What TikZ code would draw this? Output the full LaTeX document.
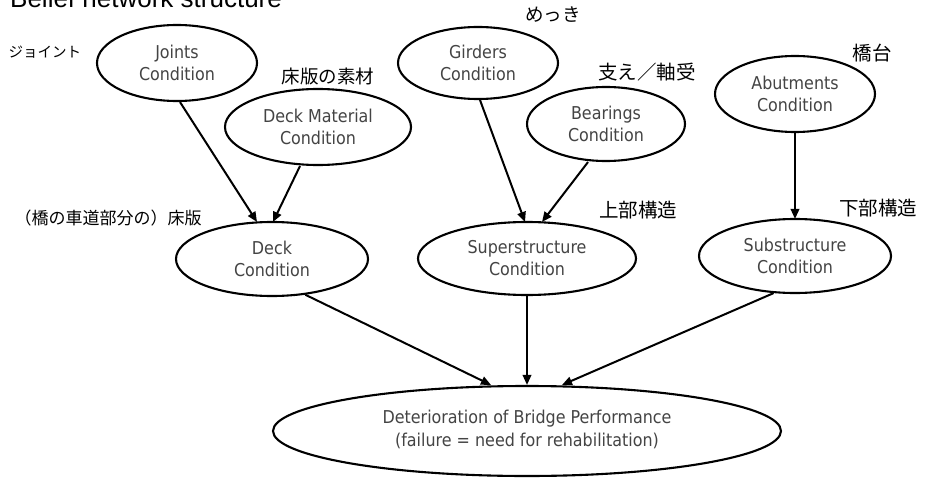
\documentclass[tikz,border=0pt]{standalone}
\usepackage{fontspec}
\setmainfont{DejaVu Sans Condensed}
\newfontfamily\jpfont{Noto Sans CJK JP}
\newfontfamily\titlefont{Liberation Sans}
\usetikzlibrary{shapes.geometric,arrows.meta}
\definecolor{nodetext}{HTML}{444444}
\begin{document}
\begin{tikzpicture}[x=1pt,y=-1pt,
  cond/.style={ellipse,draw=black,line width=2.1pt,inner sep=0pt,
    align=center,text=nodetext,
    font=\fontsize{17.7}{22}\selectfont},
  link/.style={line width=2pt,-{Triangle[length=10pt,width=8.5pt]}},
  jlabel/.style={inner sep=0pt,font=\jpfont\fontsize{19.5}{22}\selectfont}]
\useasboundingbox (0,0) rectangle (925,481);
\fill[white] (0,0) rectangle (925,481);

% heading, partly cut by the top edge
\node[anchor=base west,inner sep=0pt,font=\titlefont\fontsize{26}{30}\selectfont]
  (title) at (10,8) {Belief network structure};

% component nodes
\node[cond,minimum width=160pt,minimum height=76pt] (joints)   at (177,63)  {Joints\\Condition};
\node[cond,minimum width=186pt,minimum height=76pt] (deckmat)  at (318,127) {Deck Material\\Condition};
\node[cond,minimum width=160pt,minimum height=72pt] (girders)  at (478,63)  {Girders\\Condition};
\node[cond,minimum width=158pt,minimum height=74pt] (bearings) at (606,124) {Bearings\\Condition};
\node[cond,minimum width=160pt,minimum height=76pt] (abut)     at (795,94)  {Abutments\\Condition};
\node[cond,minimum width=192pt,minimum height=74pt] (deck)     at (272,259) {Deck\\Condition};
\node[cond,minimum width=218pt,minimum height=73pt] (super)    at (527,258.5) {Superstructure\\Condition};
\node[cond,minimum width=192pt,minimum height=74pt] (sub)      at (795,256) {Substructure\\Condition};
\node[cond,minimum width=508pt,minimum height=90pt] (det)      at (527,431)
  {\raisebox{4pt}{\begin{tabular}{@{}c@{}}Deterioration of Bridge Performance\\[1pt](failure = need for rehabilitation)\end{tabular}}};

% Japanese annotations
\node[jlabel,font=\jpfont\fontsize{14.5}{16}\selectfont] (jJoint) at (45,52)  {ジョイント};
\node[jlabel,font=\jpfont\fontsize{18.5}{20}\selectfont] (jDeckMat) at (328,76)  {床版の素材};
\node[jlabel,font=\jpfont\fontsize{18.5}{20}\selectfont] (jGirder)  at (553,15)  {めっき};
\node[jlabel] (jBear)    at (647,72)  {支え／軸受};
\node[jlabel] (jAbut)    at (872,53)  {橋台};
\node[jlabel,font=\jpfont\fontsize{17}{20}\selectfont] (jDeck) at (108,218) {（橋の車道部分の）床版};
\node[jlabel] (jSuper)   at (638,210) {上部構造};
\node[jlabel] (jSub)     at (878,208) {下部構造};

% dependencies
\draw[link] ([xshift=3pt]joints.south)    -- ([xshift=-15pt,yshift=-1pt]deck.north);
\draw[link] ([xshift=-18pt]deckmat.south) -- ([xshift=1pt,yshift=-1pt]deck.north);
\draw[link] ([xshift=2pt]girders.south)   -- ([xshift=-2pt,yshift=-1pt]super.north);
\draw[link] ([xshift=-18pt]bearings.south)-- ([xshift=15pt,yshift=-1pt]super.north);
\draw[link] (abut.south) -- ([yshift=-1pt]sub.north);
\draw[link] (deck.-47)  -- ([xshift=-36pt]det.north);
\draw[link] (super.south) -- (det.north);
\draw[link] (sub.-120)  -- ([xshift=35pt]det.north);
\end{tikzpicture}
\end{document}
